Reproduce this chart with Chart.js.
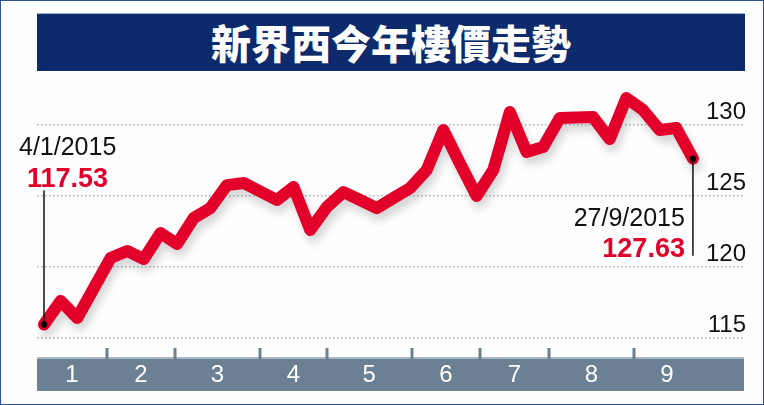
<!DOCTYPE html>
<html>
<head>
<meta charset="utf-8">
<script src="https://cdn.jsdelivr.net/npm/chart.js@4/dist/chart.umd.min.js"></script>
<style>
  body { margin: 0; background: #fdfefd; }
  #wrap { position: relative; width: 764px; height: 405px; background: #fdfefd; }
  #frame { position: absolute; left: 0; top: 0; width: 762px; height: 403px; border: 1px solid #2d4f94; pointer-events: none; }
  #title {
    position: absolute; left: 37px; top: 13px; width: 708px; height: 58px;
    background: #0d2a6c; border-top: 1px solid #9fb0d2; box-sizing: border-box;
    color: #fff; text-align: center; line-height: 57px;
    font-family: "Noto Sans CJK TC", sans-serif; font-weight: 900; font-size: 40px;
  }
</style>
</head>
<body>
<div id="wrap">
  <canvas id="myChart" width="764" height="405"></canvas>
  <div id="title">新界西今年樓價走勢</div>
  <div id="frame"></div>
</div>
<script>
// weekly index values, 4/1/2015 .. 27/9/2015
var values = [115.95, 117.61, 116.41, 118.52, 120.63, 121.13, 120.56, 122.39, 121.62, 123.45,
              124.15, 125.77, 125.92, 125.32, 124.72, 125.63, 122.61, 124.23, 125.28, 124.72,
              124.15, 124.86, 125.56, 126.83, 129.65, 127.29, 125.0, 126.83, 130.92, 128.10,
              128.45, 130.49, 130.53, 130.56, 129.01, 131.90, 131.06, 129.65, 129.79, 127.63];
var yTicks = [115, 120, 125, 130];
var months = ['1', '2', '3', '4', '5', '6', '7', '8', '9'];
// month boundaries on the week axis
var monthEdges = [-0.42, 3.79, 7.87, 12.98, 17.0, 22.1, 26.2, 30.35, 35.46, 39.42];
var startLabel = ['4/1/2015', '117.53'];
var endLabel = ['27/9/2015', '127.63'];

var red = '#e2002b';
var bandColor = '#6c8093';

var points = values.map(function (v, i) { return { x: i, y: v }; });

var decor = {
  id: 'decor',
  beforeDatasetsDraw: function (chart) {
    var c = chart.ctx;
    c.save();
    c.shadowColor = 'rgba(70,70,70,0.22)';
    c.shadowBlur = 8;
    c.shadowOffsetX = 3;
    c.shadowOffsetY = 7;
  },
  afterDatasetsDraw: function (chart) {
    var c = chart.ctx;
    c.restore();
    var xs = chart.scales.x, ys = chart.scales.y, area = chart.chartArea;

    // month band
    var bl = area.left, br = area.right - 1, top = area.bottom;
    c.save();
    c.fillStyle = '#a9b5c0';
    c.fillRect(bl, top - 1, br - bl, 2);
    c.fillStyle = bandColor;
    c.fillRect(bl, top + 1, br - bl, 32);
    for (var i = 1; i < monthEdges.length - 1; i++) {
      var ex = Math.round(xs.getPixelForValue(monthEdges[i]));
      c.fillRect(ex - 1.5, top - 10, 3, 11);
    }
    c.fillStyle = '#ffffff';
    c.font = '24px "Liberation Sans Narrow", "Liberation Sans", sans-serif';
    c.textAlign = 'center';
    c.textBaseline = 'middle';
    months.forEach(function (m, k) {
      var mx = xs.getPixelForValue((monthEdges[k] + monthEdges[k + 1]) / 2);
      c.fillText(m, mx, top + 17);
    });

    // start / end callouts
    var n = values.length - 1;
    var sx = xs.getPixelForValue(0), sy = ys.getPixelForValue(values[0]);
    var exx = xs.getPixelForValue(n), eyy = ys.getPixelForValue(values[n]);
    c.strokeStyle = '#111';
    c.lineWidth = 1.5;
    c.beginPath();
    c.moveTo(sx, sy); c.lineTo(sx, sy - 134);
    c.moveTo(exx, eyy); c.lineTo(exx, eyy + 97);
    c.stroke();
    c.fillStyle = '#000';
    c.beginPath(); c.arc(sx, sy, 3.2, 0, Math.PI * 2); c.fill();
    c.beginPath(); c.arc(exx, eyy, 3.2, 0, Math.PI * 2); c.fill();

    c.textBaseline = 'alphabetic';
    c.textAlign = 'left';
    c.fillStyle = '#111';
    c.font = '25px "Liberation Sans", Arial, sans-serif';
    c.fillText(startLabel[0], sx - 25, sy - 169);
    c.fillStyle = red;
    c.font = 'bold 27px "Liberation Sans", Arial, sans-serif';
    c.fillText(startLabel[1], sx - 17, sy - 137);

    c.textAlign = 'right';
    c.fillStyle = '#111';
    c.font = '25px "Liberation Sans", Arial, sans-serif';
    c.fillText(endLabel[0], exx - 8, eyy + 67);
    c.fillStyle = red;
    c.font = 'bold 27px "Liberation Sans", Arial, sans-serif';
    c.fillText(endLabel[1], exx - 8, eyy + 98);
    c.restore();
  }
};

var ctx = document.getElementById('myChart');

var lineChart = new Chart(ctx, {
  type: 'line',
  data: {
    datasets: [{
      data: points,
      borderColor: red,
      borderWidth: 12,
      borderJoinStyle: 'round',
      borderCapStyle: 'round',
      pointRadius: 0,
      tension: 0,
      fill: false
    }]
  },
  options: {
    responsive: false,
    animation: false,
    layout: { padding: { left: 37, right: 19, top: 85, bottom: 47 } },
    plugins: { legend: { display: false }, tooltip: { enabled: false } },
    scales: {
      x: { type: 'linear', display: false, min: -0.42, max: 42.13 },
      y: {
        position: 'right',
        min: 113.59,
        max: 132.82,
        afterFit: function (s) { s.width = 0; },
        afterBuildTicks: function (s) { s.ticks = yTicks.map(function (v) { return { value: v }; }); },
        grid: { color: '#a3b3c3', lineWidth: 1.5, drawTicks: false },
        border: { display: false, dash: [1.5, 2.5] },
        ticks: {
          mirror: true,
          padding: 1,
          labelOffset: -13,
          color: '#111',
          font: { family: '"Liberation Sans", Arial, sans-serif', size: 24 }
        }
      }
    }
  },
  plugins: [decor]
});
</script>
</body>
</html>
